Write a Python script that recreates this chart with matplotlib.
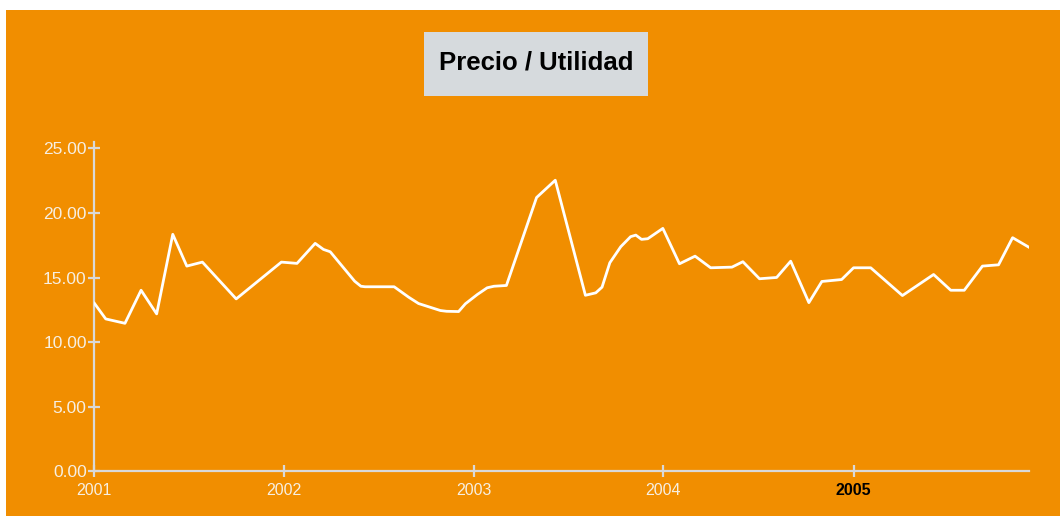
import matplotlib

matplotlib.use("Agg")
import matplotlib.pyplot as plt
from matplotlib.patches import Rectangle
from matplotlib.ticker import FormatStrFormatter
import pandas as pd

plt.rcParams["font.family"] = ["Liberation Sans", "DejaVu Sans"]

BG = "#f18e00"
AXIS = "#d9d9d9"
LABEL = "#f7efe2"
TITLE_BOX = "#d6dadd"

TITLE = "Precio / Utilidad"

dates = [
    "2001-01-01", "2001-01-23", "2001-03-01", "2001-04-01", "2001-05-01",
    "2001-06-01", "2001-06-28", "2001-07-28", "2001-10-01", "2001-12-27",
    "2002-01-26", "2002-03-02", "2002-03-18", "2002-03-31", "2002-05-17",
    "2002-05-29", "2002-06-06", "2002-08-01", "2002-08-29", "2002-09-17",
    "2002-10-29", "2002-11-10", "2002-12-03", "2002-12-16", "2003-01-08",
    "2003-01-27", "2003-02-09", "2003-03-05", "2003-05-02", "2003-06-07",
    "2003-08-04", "2003-08-24", "2003-09-05", "2003-09-20", "2003-10-11",
    "2003-10-30", "2003-11-09", "2003-11-20", "2003-12-02", "2003-12-31",
    "2004-02-01", "2004-03-02", "2004-04-01", "2004-05-12", "2004-06-02",
    "2004-07-04", "2004-08-06", "2004-09-02", "2004-10-07", "2004-11-01",
    "2004-12-09", "2005-01-01", "2005-02-03", "2005-04-05", "2005-06-04",
    "2005-07-07", "2005-08-02", "2005-09-06", "2005-10-07", "2005-11-03",
    "2005-12-04",
]
pe_ratio = [
    13.02, 11.80, 11.46, 14.02, 12.19,
    18.35, 15.89, 16.20, 13.35, 16.20,
    16.10, 17.65, 17.18, 17.00, 14.72,
    14.33, 14.29, 14.29, 13.48, 12.99,
    12.45, 12.39, 12.37, 12.97, 13.69,
    14.21, 14.33, 14.39, 21.20, 22.54,
    13.63, 13.82, 14.26, 16.15, 17.39,
    18.17, 18.29, 17.96, 18.01, 18.81,
    16.07, 16.66, 15.76, 15.81, 16.23,
    14.91, 15.01, 16.27, 13.06, 14.70,
    14.85, 15.76, 15.76, 13.61, 15.24,
    14.02, 14.02, 15.89, 15.99, 18.09,
    17.36,
]
y_ticks = [0, 5, 10, 15, 20, 25]
year_ticks = ["2001", "2002", "2003", "2004", "2005"]
highlight_year = "2005"

x = pd.to_datetime(dates)
years = pd.to_datetime(year_ticks)

W, H = 1060, 516
fig = plt.figure(figsize=(W / 100, H / 100), dpi=100, facecolor="white")

# orange panel (white strip on the top and left edges)
fig.patches.append(Rectangle((6 / W, 0), 1, 1 - 10 / H, transform=fig.transFigure,
                             facecolor=BG, edgecolor="none", zorder=-10))
# grey title box
fig.patches.append(Rectangle((424 / W, 1 - 96 / H), 224 / W, 64 / H, transform=fig.transFigure,
                             facecolor=TITLE_BOX, edgecolor="none", zorder=-5))
fig.text(536 / W, 1 - 63 / H, TITLE, ha="center", va="center", fontsize=18.5,
         fontweight="bold", color="black")

ax = fig.add_axes([94.3 / W, 1 - 471.3 / H, (1028.7 - 94.3) / W, (471.3 - 142) / H])
ax.set_facecolor("none")
ax.plot(x, pe_ratio, color="white", linewidth=2.0, zorder=3)

ax.set_xlim(x[0], x[-1])
ax.set_ylim(0, 25.5)

for side in ("top", "right"):
    ax.spines[side].set_visible(False)
for side in ("left", "bottom"):
    ax.spines[side].set_color(AXIS)
    ax.spines[side].set_linewidth(1.6)

ax.set_yticks(y_ticks)
ax.yaxis.set_major_formatter(FormatStrFormatter("%.2f"))
ax.set_xticks(years)
ax.set_xticklabels(year_ticks)
ax.tick_params(axis="both", direction="inout", length=9, width=1.6, color=AXIS,
               labelcolor=LABEL)
ax.tick_params(axis="y", pad=1, labelsize=12.5)
ax.tick_params(axis="x", pad=4, labelsize=11.5)
for label in ax.get_xticklabels():
    if label.get_text() == highlight_year:
        label.set_color("black")
        label.set_fontweight("bold")

fig.savefig("out.png", dpi=100, facecolor=fig.get_facecolor())
